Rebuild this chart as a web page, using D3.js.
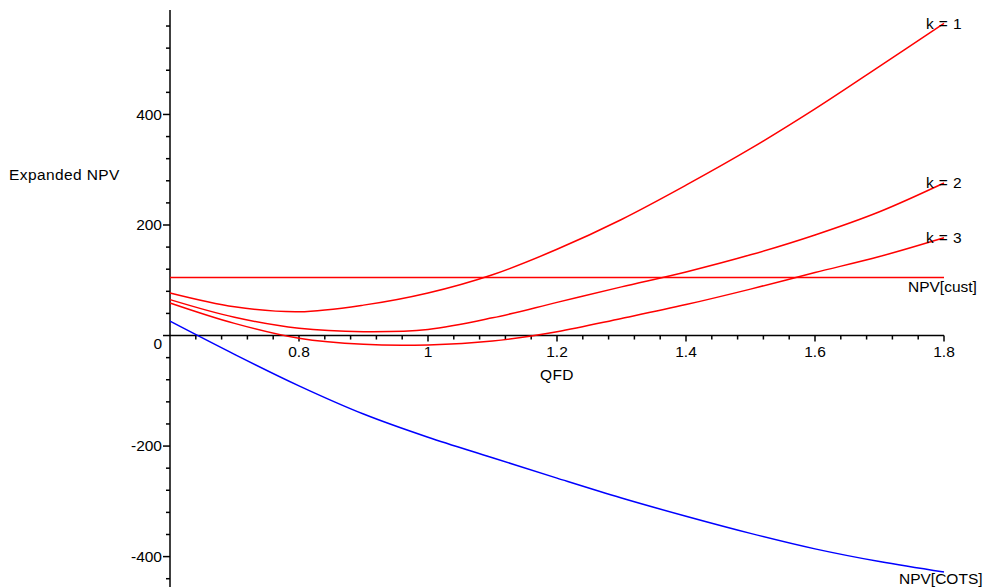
<!DOCTYPE html>
<html>
<head>
<meta charset="utf-8">
<script src="https://cdn.jsdelivr.net/npm/d3@7"></script>
<style>
  html, body { margin: 0; padding: 0; background: #fff; }
  svg { display: block; }
  text { font-family: "Liberation Sans", Arial, sans-serif; fill: #000; }
</style>
</head>
<body>
<svg id="chart" width="991" height="588"></svg>
<script>
// ---- data ----
const qfd   = [0.6, 0.7, 0.8, 0.9, 1.0, 1.1, 1.2, 1.3, 1.4, 1.5, 1.6, 1.7, 1.8];
const npvK1 = [77, 52, 43, 55, 77, 110, 156, 210, 272, 338, 410, 487, 565];
const npvK2 = [65, 33, 13, 7, 11, 32, 60, 88, 115, 146, 182, 224, 276];
const npvK3 = [59, 22, -5, -16, -17, -10, 7, 31, 56, 84, 114, 143, 177];
const npvCOTS = [26, -34, -91, -142, -184, -221, -258, -294, -327, -358, -386, -409, -428];
const npvCust = 105;
const seriesNames = ["k = 1", "k = 2", "k = 3"];
const yTickValues = [-400, -200, 0, 200, 400];
const xTickValues = [0.8, 1.0, 1.2, 1.4, 1.6, 1.8];
const xTickLabels = ["0.8", "1", "1.2", "1.4", "1.6", "1.8"];
const xAxisTitle = "QFD";
const yAxisTitle = "Expanded NPV";
const custLabel = "NPV[cust]";
const cotsLabel = "NPV[COTS]";

// ---- layout ----
const svg = d3.select("#chart");
const x = d3.scaleLinear().domain([0.6, 1.8]).range([170, 944]);
const y = d3.scaleLinear().domain([-455, 589]).range([587, 10]);
const FS = 15.5;
const LS = "0.4px";

// minor tick values
const xMinor = d3.range(0.64, 1.8001, 0.04).filter(v => !xTickValues.some(t => Math.abs(t - v) < 1e-6));
const yMinor = d3.range(-440, 589, 40).filter(v => !yTickValues.includes(v));

// y axis
const gy = svg.append("g").attr("transform", `translate(${x(0.6)},0)`);
gy.append("line").attr("x1", 0).attr("x2", 0).attr("y1", 10).attr("y2", 587)
  .attr("stroke", "#000").attr("stroke-width", 1.5);
gy.selectAll(".ymaj").data(yTickValues).enter().append("line")
  .attr("x1", -7).attr("x2", 0).attr("y1", d => y(d)).attr("y2", d => y(d))
  .attr("stroke", "#000").attr("stroke-width", 1.5);
gy.selectAll(".ymin").data(yMinor).enter().append("line")
  .attr("x1", -4).attr("x2", 0).attr("y1", d => y(d)).attr("y2", d => y(d))
  .attr("stroke", "#000").attr("stroke-width", 1.5);
gy.selectAll(".ylab").data(yTickValues).enter().append("text")
  .attr("x", -8).attr("y", d => d === 0 ? y(d) + 8 : y(d))
  .attr("dy", "0.35em").attr("text-anchor", "end").attr("font-size", FS)
  .text(d => String(d));

// x axis (at y = 0)
const gx = svg.append("g").attr("transform", `translate(0,${y(0)})`);
gx.append("line").attr("x1", x(0.6)).attr("x2", x(1.8)).attr("y1", 0).attr("y2", 0)
  .attr("stroke", "#000").attr("stroke-width", 1.5);
gx.selectAll(".xmaj").data(xTickValues).enter().append("line")
  .attr("x1", d => x(d)).attr("x2", d => x(d)).attr("y1", 0).attr("y2", 6)
  .attr("stroke", "#000").attr("stroke-width", 1.5);
gx.selectAll(".xmin").data(xMinor).enter().append("line")
  .attr("x1", d => x(d)).attr("x2", d => x(d)).attr("y1", 0).attr("y2", 4)
  .attr("stroke", "#000").attr("stroke-width", 1.5);
gx.selectAll(".xlab").data(xTickValues).enter().append("text")
  .attr("x", d => x(d)).attr("y", 21).attr("text-anchor", "middle").attr("font-size", FS)
  .text((d, i) => xTickLabels[i]);

// axis titles
svg.append("text").attr("x", x(1.2)).attr("y", y(0) + 44).attr("text-anchor", "middle")
  .attr("font-size", FS).attr("letter-spacing", LS).text(xAxisTitle);
svg.append("text").attr("x", 9).attr("y", 180).attr("font-size", FS)
  .attr("letter-spacing", LS).text(yAxisTitle);

// curves
const line = d3.line().x(d => x(d[0])).y(d => y(d[1])).curve(d3.curveCatmullRom.alpha(0.5));
const redSeries = [npvK1, npvK2, npvK3];
redSeries.forEach((vals, i) => {
  svg.append("path").datum(qfd.map((q, j) => [q, vals[j]]))
    .attr("d", line).attr("fill", "none").attr("stroke", "#ff0000").attr("stroke-width", 1.5);
  svg.append("text").attr("x", x(1.8) - 18).attr("y", y(vals[vals.length - 1]))
    .attr("dy", "0.35em").attr("font-size", FS).attr("letter-spacing", LS).text(seriesNames[i]);
});

// NPV[cust] horizontal line
svg.append("path").datum([[0.6, npvCust], [1.8, npvCust]])
  .attr("d", d3.line().x(d => x(d[0])).y(d => y(d[1])))
  .attr("fill", "none").attr("stroke", "#ff0000").attr("stroke-width", 1.5);
svg.append("text").attr("x", x(1.8) - 36).attr("y", y(npvCust) + 15)
  .attr("font-size", FS).text(custLabel);

// NPV[COTS]
svg.append("path").datum(qfd.map((q, j) => [q, npvCOTS[j]]))
  .attr("d", line).attr("fill", "none").attr("stroke", "#0000ff").attr("stroke-width", 1.5);
svg.append("text").attr("x", x(1.8) - 45).attr("y", y(npvCOTS[npvCOTS.length - 1]) + 12)
  .attr("font-size", FS).text(cotsLabel);
</script>
</body>
</html>
